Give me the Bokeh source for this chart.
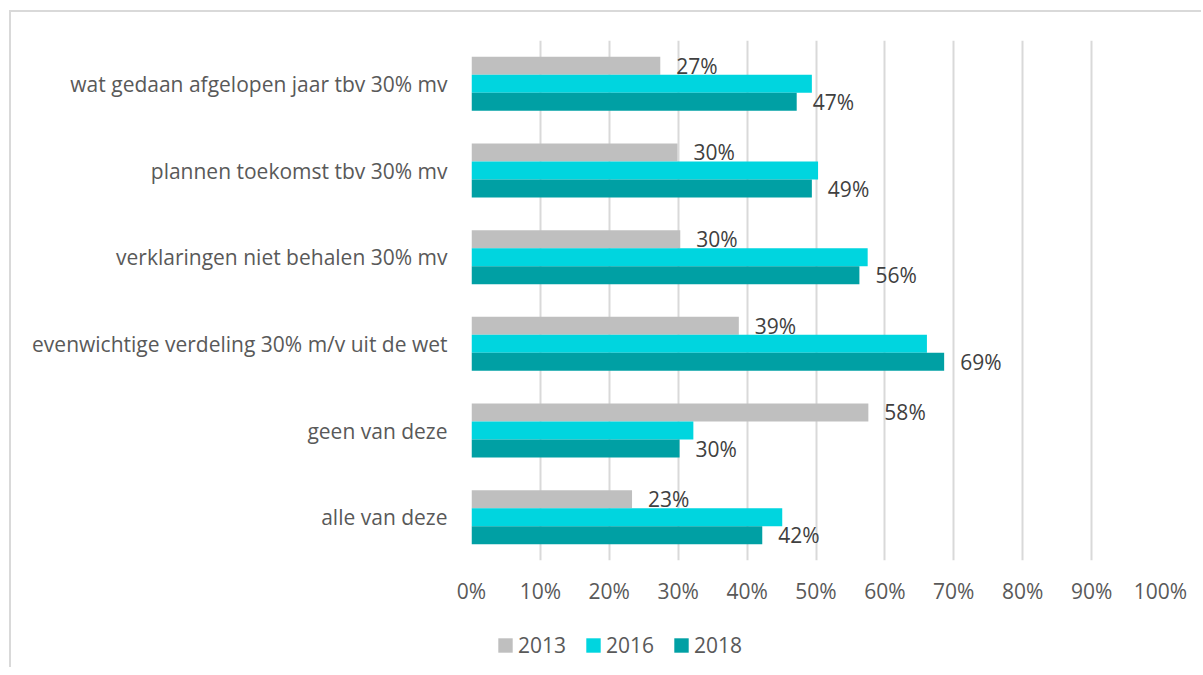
from bokeh.plotting import figure
from bokeh.layouts import column
from bokeh.models import (ColumnDataSource, FactorRange, Range1d, FixedTicker,
                          NumeralTickFormatter, Legend, LegendItem)
from bokeh.transform import dodge
from bokeh.core.properties import value
from bokeh.embed import file_html
from bokeh.resources import INLINE

categories = [
    "wat gedaan afgelopen jaar tbv 30% mv",
    "plannen toekomst tbv 30% mv",
    "verklaringen niet behalen 30% mv",
    "evenwichtige verdeling 30% m/v uit de wet",
    "geen van deze",
    "alle van deze",
]
years = ["2013", "2016", "2018"]
v2013 = [0.274, 0.299, 0.303, 0.388, 0.576, 0.233]
v2016 = [0.494, 0.503, 0.575, 0.661, 0.322, 0.451]
v2018 = [0.472, 0.494, 0.563, 0.686, 0.302, 0.422]
x_ticks = [0.0, 0.1, 0.2, 0.3, 0.4, 0.5, 0.6, 0.7, 0.8, 0.9, 1.0]

colors = {"2013": "#bfbfbf", "2016": "#00d5df", "2018": "#00a0a4"}
FONT = "Open Sans"
FS = "21px"
BAR_H = 0.2077

src = ColumnDataSource(dict(
    cat=categories,
    v2013=v2013, v2016=v2016, v2018=v2018,
    l2013=[f"{round(v * 100)}%" for v in v2013],
    l2018=[f"{round(v * 100)}%" for v in v2018],
))

p = figure(width=1190, height=598, output_backend="svg", toolbar_location=None,
           y_range=FactorRange(factors=list(reversed(categories)), range_padding=0),
           x_range=Range1d(0, 1),
           min_border_left=460, min_border_right=41, min_border_top=28, min_border_bottom=50)
p.outline_line_color = None
p.background_fill_color = "white"
p.border_fill_color = "white"

offsets = {"2013": BAR_H, "2016": 0.0, "2018": -BAR_H}
for y in years:
    p.hbar(y=dodge("cat", offsets[y], range=p.y_range), left=0, right="v" + y,
           height=BAR_H, color=colors[y], line_color=None, source=src)

for y in ["2013", "2018"]:
    p.text(x="v" + y, y=dodge("cat", offsets[y], range=p.y_range), text="l" + y,
           source=src, x_offset=16, text_baseline="middle", text_align="left",
           text_font=value(FONT), text_font_size=FS, text_color="#404040")

# axes
p.xaxis.ticker = FixedTicker(ticks=x_ticks)
p.xaxis.formatter = NumeralTickFormatter(format="0%")
for ax in (p.xaxis[0], p.yaxis[0]):
    ax.axis_line_color = None
    ax.major_tick_line_color = None
    ax.minor_tick_line_color = None
    ax.major_label_text_font = FONT
    ax.major_label_text_font_size = FS
    ax.major_label_text_color = "#595959"
p.xaxis.major_label_standoff = 10
p.yaxis.major_label_standoff = 18

p.xgrid.ticker = FixedTicker(ticks=x_ticks)
p.xgrid.grid_line_color = "#d9d9d9"
p.xgrid.grid_line_width = 2
p.ygrid.grid_line_color = None

# legend strip (its own small plot so the legend is not clipped)
q = figure(width=1190, height=57, output_backend="svg", toolbar_location=None,
           x_range=Range1d(0, 1), y_range=Range1d(0, 1),
           min_border_left=0, min_border_right=0, min_border_top=0, min_border_bottom=0,
           x_axis_location=None, y_axis_location=None)
q.outline_line_color = None
q.grid.grid_line_color = None
q.border_fill_color = "white"
leg_src = ColumnDataSource(dict(year=years, zero=[0, 0, 0], mid=[0.5, 0.5, 0.5]))
items = []
for i, y in enumerate(years):
    r = q.hbar(y="mid", left="zero", right="zero", height=0.0, color=colors[y],
               line_color=None, source=leg_src)
    items.append(LegendItem(label=y, renderers=[r], index=i))
legend = Legend(items=items, orientation="horizontal", location=(25, 8),
                label_text_font=FONT, label_text_font_size=FS, label_text_color="#595959",
                glyph_width=18, glyph_height=18, label_standoff=4, spacing=18,
                padding=0, margin=0, border_line_color=None, background_fill_alpha=0)
q.add_layout(legend, "center")

layout = column(p, q, spacing=0, margin=(10, 0, 0, 9),
                styles={"border-top": "2px solid #d9d9d9", "border-left": "2px solid #d9d9d9"})

open("out.html", "w").write(file_html(layout, INLINE))
